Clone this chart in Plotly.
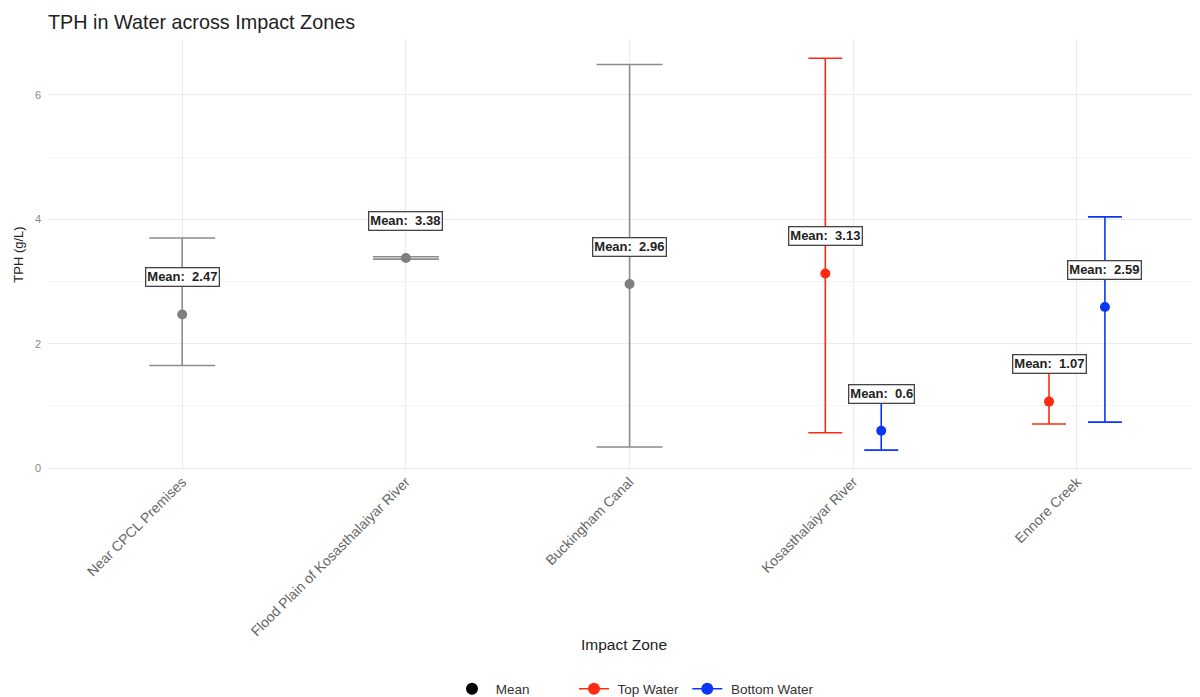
import plotly.graph_objects as go

zones = ["Near CPCL Premises", "Flood Plain of Kosasthalaiyar River",
         "Buckingham Canal", "Kosasthalaiyar River", "Ennore Creek"]

# Zones with a single (overall) measurement group
overall_zone_idx = [0, 1, 2]
overall_mean = [2.47, 3.38, 2.96]
overall_low = [1.65, 3.36, 0.34]
overall_high = [3.70, 3.40, 6.49]

# Zones split into top / bottom water
split_zone_idx = [3, 4]
top_mean = [3.13, 1.07]
top_low = [0.57, 0.71]
top_high = [6.59, 1.60]
bottom_mean = [0.60, 2.59]
bottom_low = [0.29, 0.74]
bottom_high = [1.12, 4.04]

GRAY_PT = "#7f7f7f"
GRAY_BAR = "#8c8c8c"
RED = "#FF2A12"
BLUE = "#0A37F5"
DODGE = 0.125
LABEL_OFFSET = 0.6

W, H = 1192, 689  # page body has an 8px margin

fig = go.Figure()


def add_group(xs, means, lows, highs, pt_color, bar_color, cap):
    fig.add_trace(go.Scatter(
        x=xs, y=means, mode="markers",
        marker=dict(color=pt_color, size=10),
        error_y=dict(type="data", symmetric=False,
                     array=[h - m for h, m in zip(highs, means)],
                     arrayminus=[m - l for m, l in zip(means, lows)],
                     color=bar_color, thickness=1.6, width=cap),
        showlegend=False, hoverinfo="skip"))


add_group(overall_zone_idx, overall_mean, overall_low, overall_high, GRAY_PT, GRAY_BAR, 33)
top_x = [i - DODGE for i in split_zone_idx]
bot_x = [i + DODGE for i in split_zone_idx]
add_group(top_x, top_mean, top_low, top_high, RED, RED, 17)
add_group(bot_x, bottom_mean, bottom_low, bottom_high, BLUE, BLUE, 17)

# Labels
for xs, ms in [(overall_zone_idx, overall_mean), (top_x, top_mean), (bot_x, bottom_mean)]:
    for x, m in zip(xs, ms):
        fig.add_annotation(
            x=x, y=m + LABEL_OFFSET, text="<b>Mean:\u00a0 %s</b>" % (f"{m:g}"),
            showarrow=False, font=dict(size=13, color="#222222", family="Liberation Sans, Arial"),
            bgcolor="white", bordercolor="#444444", borderwidth=1.3, borderpad=1,
            xanchor="center", yanchor="middle")

# Legend dummies
fig.add_trace(go.Scatter(x=[None], y=[None], mode="markers", name=" Mean",
                         marker=dict(color="black", size=12), legend="legend"))
fig.add_trace(go.Scatter(x=[None], y=[None], mode="lines+markers", name=" Top Water\u00a0",
                         marker=dict(color=RED, size=12), line=dict(color=RED, width=1.6),
                         legend="legend2"))
fig.add_trace(go.Scatter(x=[None], y=[None], mode="lines+markers", name=" Bottom Water",
                         marker=dict(color=BLUE, size=12), line=dict(color=BLUE, width=1.6),
                         legend="legend2"))

fig.update_layout(
    width=W, height=H,
    paper_bgcolor="white", plot_bgcolor="white",
    font=dict(family="Liberation Sans, Arial", color="#444444"),
    margin=dict(l=40, r=0, t=31, b=227, autoexpand=False),
    title=dict(text="TPH in Water across Impact Zones", x=40 / W, xanchor="left",
               y=1 - 14 / H, yanchor="middle",
               font=dict(size=19.8, color="#222222")),
    xaxis=dict(range=[-0.6, 4.55], tickmode="array", tickvals=list(range(len(zones))),
               ticktext=zones, tickangle=-45, tickfont=dict(size=14, color="#666666"),
               showgrid=True, gridcolor="#EBEBEB", gridwidth=1, zeroline=False,
               ticks="", showline=False, automargin=False,
               title=dict(text="Impact Zone", font=dict(size=15.5, color="#222222"), standoff=1)),
    yaxis=dict(range=[-0.03, 6.9], tickvals=[0, 2, 4, 6], tickfont=dict(size=11, color="#888888"),
               showgrid=True, gridcolor="#EBEBEB", gridwidth=1, zeroline=False,
               minor=dict(tickvals=[1, 3, 5], showgrid=True, gridcolor="#F4F4F4", gridwidth=0.8),
               ticks="", ticklabelstandoff=6, automargin=False,
               title=dict(text="TPH (g/L)", font=dict(size=13, color="#222222"), standoff=8)),
    legend=dict(orientation="h", x=444 / W, xref="container", y=8 / H, yref="container",
                xanchor="left", yanchor="middle", font=dict(size=13.5, color="#333333"),
                bgcolor="rgba(0,0,0,0)"),
    legend2=dict(orientation="h", x=566 / W, xref="container", y=8 / H, yref="container",
                 xanchor="left", yanchor="middle", font=dict(size=13.5, color="#333333"),
                 bgcolor="rgba(0,0,0,0)", itemwidth=30),
)

fig.write_html("out.html")
